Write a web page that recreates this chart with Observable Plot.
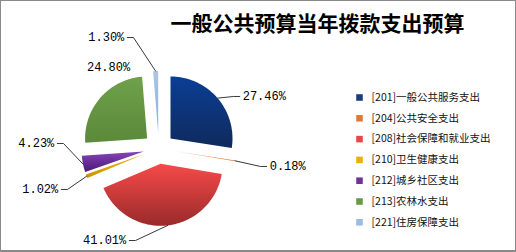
<!DOCTYPE html>
<html><head><meta charset="utf-8">
<script src="https://cdn.jsdelivr.net/npm/d3@7"></script>
<script src="https://cdn.jsdelivr.net/npm/@observablehq/plot@0.6"></script>
<style>
body{margin:0;background:#fff}
#wrap{position:relative;width:516px;height:252px;overflow:hidden;background:#fff}
#border{position:absolute;left:0;top:0;width:516px;height:252px;box-sizing:border-box;border:1px solid #8a8a8a;border-bottom:2px solid #8a8a8a;pointer-events:none}
</style></head><body>
<div id="wrap"><div id="border"></div></div>
<script>
// ---- data ----
const title = "一般公共预算当年拨款支出预算";
const codes = ["[201]", "[204]", "[208]", "[210]", "[212]", "[213]", "[221]"];
const names = ["一般公共服务支出", "公共安全支出", "社会保障和就业支出", "卫生健康支出", "城乡社区支出", "农林水支出", "住房保障支出"];
const shares = [27.46, 0.18, 41.01, 1.02, 4.23, 24.80, 1.30];
const pctLabels = ["27.46%", "0.18%", "41.01%", "1.02%", "4.23%", "24.80%", "1.30%"];

// ---- styles ----
const legendColors = ["#1d3b7d", "#e07838", "#e44848", "#e8b200", "#7030a0", "#679a45", "#9cbce4"];
const gradTop =    ["#0b3e94", "#f0a070", "#f64a4a", "#f2ba10", "#8444b6", "#6fa04a", "#aac6e8"];
const gradBottom = ["#0f2a5c", "#d07030", "#9a2a2a", "#c89000", "#4c1878", "#5a8a3a", "#8eaed6"];

// ---- layout (pixels of the 516x252 frame; pie in radius units) ----
const W = 516, H = 252, CX = 158.3, CY = 148, R = 62, EXPLODE = 15.4 / 62;
// elbow of each leader in pie-radius units, side of the label
const labelLayout = [
  {ex: 1.205, ey: 0.839, side: 1, leader: true},
  {ex: 1.640, ey: -0.290, side: 1, leader: true},
  {ex: -0.376, ey: -1.484, side: -1, leader: true},
  {ex: -1.473, ey: -0.661, side: -1, leader: true},
  {ex: -1.537, ey: 0.081, side: -1, leader: true},
  {ex: -0.81, ey: 1.306, side: 0, leader: false},
  {ex: -0.408, ey: 1.790, side: -1, leader: true}
];
const TAIL = 0.1;
const legendX = (359 - CX) / R, legendTextX = (371 - CX) / R;
const legendTop = (CY - 97) / R, legendStep = 20.8 / R;
const titleX = (317 - CX) / R, titleY = (CY - 24) / R;

// ---- geometry from data ----
const total = d3.sum(shares);
let cum = 0;
const slices = shares.map((v, i) => {
  const a0 = cum / total * 2 * Math.PI; cum += v;
  const a1 = cum / total * 2 * Math.PI;
  const m = (a0 + a1) / 2;
  return {i, a0, a1, m, ox: EXPLODE * Math.sin(m), oy: EXPLODE * Math.cos(m)};
});
const slicePts = slices.map(s => {
  const n = Math.max(2, Math.ceil((s.a1 - s.a0) / 0.02));
  const arr = [{x: s.ox, y: s.oy}];
  for (let j = 0; j <= n; j++) {
    const a = s.a0 + (s.a1 - s.a0) * j / n;
    arr.push({x: s.ox + Math.sin(a), y: s.oy + Math.cos(a)});
  }
  arr.push({x: s.ox, y: s.oy});
  return arr;
});
const leaderPts = [];
const labelData = slices.map(s => {
  const L = labelLayout[s.i];
  const mx = s.ox + Math.sin(s.m), my = s.oy + Math.cos(s.m);
  const endX = L.ex + L.side * TAIL;
  if (L.leader) {
    leaderPts.push({k: s.i, x: mx, y: my}, {k: s.i, x: L.ex, y: L.ey}, {k: s.i, x: endX, y: L.ey});
  }
  return {x: endX, y: L.ey, side: L.side, text: pctLabels[s.i]};
});
const legendData = codes.map((c, i) => ({i, text: c + names[i], color: legendColors[i], y: legendTop - i * legendStep}));

const labelFont = "'Liberation Mono', 'DejaVu Sans Mono', monospace";
const cjkFont = "'Noto Sans CJK SC', sans-serif";

const svg = Plot.plot({
  width: W, height: H, margin: 0,
  x: {domain: [-CX / R, (W - CX) / R], axis: null},
  y: {domain: [(CY - H) / R, CY / R], axis: null},
  color: {type: "identity"},
  marks: [
    ...slicePts.map((pts, i) => Plot.line(pts, {x: "x", y: "y", fill: `url(#g${i})`, stroke: "none", curve: "linear"})),
    Plot.line(leaderPts, {x: "x", y: "y", z: "k", stroke: "#222", strokeWidth: 0.9}),
    Plot.text(labelData.filter(d => d.side === 1), {x: "x", y: "y", text: "text", textAnchor: "start", dx: 3, fontSize: 12, fontFamily: labelFont, fill: "#000"}),
    Plot.text(labelData.filter(d => d.side === -1), {x: "x", y: "y", text: "text", textAnchor: "end", dx: -3, fontSize: 12, fontFamily: labelFont, fill: "#000"}),
    Plot.text(labelData.filter(d => d.side === 0), {x: "x", y: "y", text: "text", textAnchor: "middle", fontSize: 12, fontFamily: labelFont, fill: "#000"}),
    Plot.dot(legendData, {x: legendX, y: "y", symbol: "square", r: 3.7, fill: "color", stroke: "none"}),
    Plot.text(legendData, {x: legendTextX, y: "y", text: "text", textAnchor: "start", fontSize: 10.5, fontFamily: cjkFont, fill: "#111"}),
    Plot.text([title], {x: titleX, y: titleY, text: d => d, fontSize: 21, fontWeight: "bold", fontFamily: cjkFont, fill: "#000"})
  ]
});

const defs = document.createElementNS("http://www.w3.org/2000/svg", "defs");
defs.innerHTML = shares.map((_, i) =>
  `<linearGradient id="g${i}" x1="0" y1="0" x2="0" y2="1"><stop offset="0" stop-color="${gradTop[i]}"/><stop offset="1" stop-color="${gradBottom[i]}"/></linearGradient>`
).join("");
svg.insertBefore(defs, svg.firstChild);
document.getElementById("wrap").insertBefore(svg, document.getElementById("border"));
</script>
</body></html>
